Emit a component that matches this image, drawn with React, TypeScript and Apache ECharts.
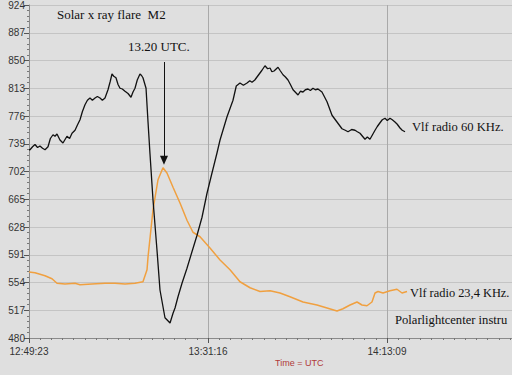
import React, { useEffect, useRef } from "react";
import * as echarts from "echarts";

// time offsets in seconds from 12:49:23 UTC
const START_SECONDS = 12 * 3600 + 49 * 60 + 23;
const X_INTERVAL = 2513;
const X_MAX = 6781;
const Y_MIN = 480;
const Y_MAX = 924;
const Y_INTERVAL = 37;

const vlf60Times = [
  0, 14, 50, 84, 120, 154, 190, 225, 267, 300, 337, 365, 393, 435, 477, 533, 570, 604, 646, 680, 716,
  750, 786, 820, 856, 890, 927, 960, 997, 1030, 1067, 1109, 1140, 1165, 1190, 1221, 1250, 1278, 1310,
  1348, 1390, 1432, 1460, 1488, 1520, 1558, 1580, 1600, 1643, 1671, 1699, 1741, 1797, 1839, 1909,
  1950, 1980, 2022, 2050, 2092, 2148, 2218, 2288, 2359, 2429, 2499, 2569, 2640, 2682, 2780, 2864,
  2910, 2962, 3010, 3061, 3100, 3131, 3170, 3201, 3240, 3271, 3313, 3350, 3384, 3410, 3440, 3496,
  3530, 3566, 3600, 3636, 3670, 3707, 3777, 3810, 3847, 3880, 3917, 3950, 3987, 4020, 4057, 4113,
  4184, 4254, 4324, 4394, 4440, 4479, 4530, 4577, 4610, 4647, 4717, 4750, 4787, 4858, 4890, 4928,
  4960, 4998, 5030, 5068, 5100, 5138, 5170, 5209, 5240, 5279,
];
const vlf60Values = [
  731, 731, 735, 738, 734, 736, 733, 731, 735, 746, 751, 749, 752, 744, 740, 749, 746, 753, 757, 764, 771,
  782, 791, 797, 800, 797, 800, 802, 800, 797, 800, 811, 822, 832, 829, 827, 818, 813, 812,
  809, 806, 801, 808, 813, 824, 832, 830, 827, 813, 768, 725, 664, 597, 544, 507,
  503, 500, 513, 520, 535, 553, 573, 595, 617, 641, 673, 700, 727, 744, 775, 797,
  816, 820, 817, 820, 823, 821, 824, 828, 833, 837, 843, 839, 840, 835, 836, 841,
  836, 831, 828, 824, 818, 811, 804, 809, 808, 811, 812, 810, 813, 811, 812, 808,
  795, 777, 768, 759, 757, 755, 758, 757, 755, 753, 745, 748, 745, 757, 762, 767,
  771, 773, 770, 773, 771, 768, 765, 760, 757, 755,
];

const vlf23Times = [
  0, 84, 225, 323, 393, 505, 646, 716, 884, 1067, 1207, 1348, 1488, 1600, 1657, 1671, 1741, 1811,
  1881, 1937, 2022, 2120, 2218, 2302, 2401, 2541, 2682, 2822, 2962, 3103, 3243, 3384, 3524, 3664,
  3847, 4043, 4184, 4324, 4408, 4507, 4605, 4675, 4745, 4815, 4858, 4900, 4970, 5068, 5166, 5237, 5307,
];
const vlf23Values = [
  568, 567, 563, 559, 553, 552, 553, 551, 552, 553, 553, 552, 553, 555, 571, 588, 651, 691,
  707, 700, 681, 660, 637, 621, 615, 600, 584, 571, 555, 547, 542, 543, 540, 535,
  528, 524, 520, 516, 519, 524, 528, 524, 523, 528, 540, 542, 540, 543, 545, 540, 542,
];

// flare arrow (time offset, value range)
const arrowTime = 1895;
const arrowTop = 848;
const arrowBottom = 717;

function fmtTime(offset: number): string {
  const s = Math.round(START_SECONDS + offset);
  const h = Math.floor(s / 3600);
  const m = Math.floor((s % 3600) / 60);
  const sec = s % 60;
  const p = (n: number) => String(n).padStart(2, "0");
  return `${p(h)}:${p(m)}:${p(sec)}`;
}

export default function App() {
  const ref = useRef<HTMLDivElement>(null);
  useEffect(() => {
    if (!ref.current) return;
    const chart = echarts.init(ref.current, undefined, { renderer: "svg" });
    const serif = "'Liberation Serif', 'DejaVu Serif', serif";
    const sans = "'Liberation Sans', Arial, sans-serif";
    chart.setOption({
      animation: false,
      backgroundColor: "#dfdfdf",
      grid: { left: 29, right: 0, top: 5, bottom: 37 },
      xAxis: {
        type: "value",
        min: 0,
        max: X_MAX,
        interval: X_INTERVAL,
        axisLine: { show: true, onZero: false, lineStyle: { color: "#8a8a8a", width: 1 } },
        axisTick: { show: true, inside: false, length: 5, lineStyle: { color: "#555" } },
        minorTick: { show: true, splitNumber: 16, length: 2, lineStyle: { color: "#777" } },
        axisLabel: {
          color: "#333",
          fontFamily: sans,
          fontSize: 10,
          margin: 8,
          showMaxLabel: false,
          formatter: (v: number) => fmtTime(v),
        },
        splitLine: { show: true, lineStyle: { color: "#a9a9a9", width: 1 } },
      },
      yAxis: {
        type: "value",
        min: Y_MIN,
        max: Y_MAX,
        interval: Y_INTERVAL,
        axisLine: { show: true, lineStyle: { color: "#8a8a8a", width: 1 } },
        axisTick: { show: true, inside: false, length: 5, lineStyle: { color: "#555" } },
        minorTick: { show: true, splitNumber: 5, length: 2, lineStyle: { color: "#777" } },
        axisLabel: { color: "#333", fontFamily: sans, fontSize: 10, margin: 4 },
        splitLine: { show: true, lineStyle: { color: "#c4c4c4", width: 1 } },
      },
      series: [
        {
          name: "Vlf radio 60 KHz.",
          type: "line",
          data: vlf60Times.map((t, i) => [t, vlf60Values[i]]),
          showSymbol: false,
          lineStyle: { color: "#111", width: 1.3 },
          z: 3,
        },
        {
          name: "Vlf radio 23,4 KHz.",
          type: "line",
          data: vlf23Times.map((t, i) => [t, vlf23Values[i]]),
          showSymbol: false,
          lineStyle: { color: "#f0a040", width: 1.5 },
          z: 2,
          markLine: {
            silent: true,
            symbol: ["none", "triangle"],
            symbolSize: [8, 9],
            label: { show: false },
            lineStyle: { color: "#111", width: 1, type: "solid" },
            data: [[{ coord: [arrowTime, arrowTop] }, { coord: [arrowTime, arrowBottom] }]],
          },
        },
      ],
      graphic: [
        { type: "text", left: 57, top: 8, style: { text: "Solar x ray flare  M2", font: `13px ${serif}`, fill: "#111" } },
        { type: "text", left: 128, top: 40, style: { text: "13.20 UTC.", font: `13px ${serif}`, fill: "#111" } },
        { type: "text", left: 412, top: 120, style: { text: "Vlf radio 60 KHz.", font: `12.6px ${serif}`, fill: "#111" } },
        { type: "text", left: 410, top: 287, style: { text: "Vlf radio 23,4 KHz.", font: `12.4px ${serif}`, fill: "#111" } },
        { type: "text", left: 395, top: 313, style: { text: "Polarlightcenter instru", font: `12.6px ${serif}`, fill: "#111" } },
        { type: "text", left: 275, top: 358, style: { text: "Time = UTC", font: `9px ${sans}`, fill: "#b03a3a" } },
      ],
    });
    return () => chart.dispose();
  }, []);
  return (
    <div
      ref={ref}
      style={{ position: "fixed", left: 0, top: 0, width: 512, height: 375, background: "#dfdfdf" }}
    />
  );
}
